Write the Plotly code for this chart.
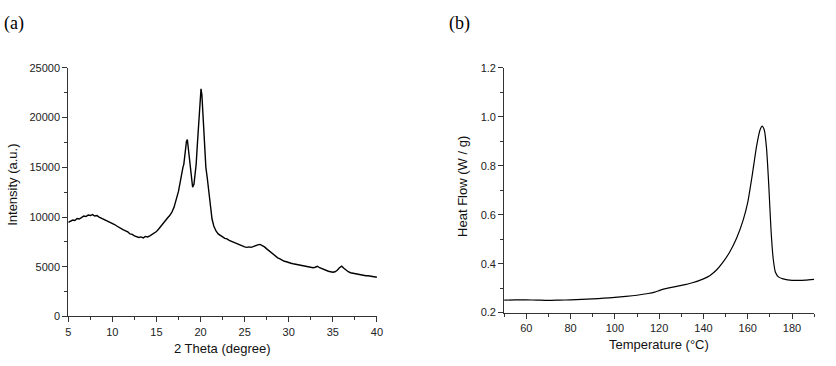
import plotly.graph_objects as go

# ---- Panel (a): XRD ----
xrd_2theta = [5.0, 5.25, 5.5, 5.75, 6.0, 6.25, 6.5, 6.75, 7.0, 7.25, 7.5, 7.75, 8.0, 8.25, 8.5, 8.75,
              9.0, 9.25, 9.5, 9.75, 10.0, 10.25, 10.5, 10.75, 11.0, 11.25, 11.5, 11.75, 12.0, 12.25,
              12.5, 12.75, 13.0, 13.25, 13.5, 13.75, 14.0, 14.25, 14.5, 14.75, 15.0, 15.25, 15.5,
              15.75, 16.0, 16.25, 16.5, 16.75, 17.0, 17.25, 17.5, 17.75, 17.9, 18.0, 18.1, 18.25,
              18.4, 18.5, 18.6, 18.75, 18.9, 19.0, 19.1, 19.25, 19.4, 19.5, 19.65, 19.8, 19.9, 20.05,
              20.15, 20.3, 20.45, 20.6, 20.75, 20.9, 21.0, 21.15, 21.3, 21.5, 21.75, 22.0, 22.25, 22.5,
              22.75, 23.0, 23.25, 23.5, 23.75, 24.0, 24.25, 24.5, 24.75, 25.0, 25.25, 25.5, 25.75,
              26.0, 26.25, 26.5, 26.75, 27.0, 27.25, 27.5, 27.75, 28.0, 28.25, 28.5, 28.75, 29.0,
              29.25, 29.5, 29.75, 30.0, 30.25, 30.5, 30.75, 31.0, 31.25, 31.5, 31.75, 32.0, 32.25,
              32.5, 32.75, 33.0, 33.25, 33.5, 33.75, 34.0, 34.25, 34.5, 34.75, 35.0, 35.25, 35.5,
              35.75, 36.0, 36.25, 36.5, 36.75, 37.0, 37.25, 37.5, 37.75, 38.0, 38.25, 38.5, 38.75,
              39.0, 39.25, 39.5, 39.75, 40.0]
xrd_intensity = [9450, 9600, 9700, 9650, 9850, 9800, 10000, 10100, 10050, 10200, 10150, 10250, 10100,
                 10150, 10000, 9900, 9800, 9700, 9550, 9450, 9350, 9250, 9100, 8950, 8850, 8700, 8600,
                 8500, 8300, 8250, 8100, 8000, 7950, 8000, 7900, 8050, 8000, 8100, 8250, 8350, 8550,
                 8800, 9100, 9400, 9650, 9900, 10150, 10500, 11000, 11700, 12600, 13800, 14800, 15000,
                 15300, 16500, 17600, 17800, 17000, 15500, 14000, 13400, 13000, 13300, 14200, 15300,
                 17500, 20000, 21800, 22900, 22300, 19500, 16800, 15000, 14000, 12800, 11800, 10700,
                 9800, 9100, 8600, 8300, 8100, 8000, 7850, 7800, 7650, 7550, 7450, 7350, 7300, 7150,
                 7100, 7000, 6950, 7000, 6950, 7050, 7100, 7200, 7250, 7150, 7000, 6800, 6600, 6400,
                 6200, 6050, 5900, 5800, 5650, 5550, 5500, 5400, 5350, 5300, 5250, 5200, 5150, 5100,
                 5050, 5000, 4950, 4900, 4900, 4950, 5050, 4900, 4800, 4700, 4600, 4550, 4500, 4450,
                 4500, 4650, 4900, 5050, 4850, 4650, 4500, 4400, 4350, 4300, 4250, 4200, 4200, 4150,
                 4100, 4100, 4050, 4000, 3950, 3950]
xrd_yticks = [0, 5000, 10000, 15000, 20000, 25000]
xrd_xticks = [5, 10, 15, 20, 25, 30, 35, 40]

# ---- Panel (b): DSC ----
dsc_temp = [50, 55, 60, 65, 70, 75, 80, 85, 90, 95, 100, 105, 110, 115, 118, 120, 122, 125, 130, 135,
            140, 143, 146, 149, 152, 155, 158, 160, 162, 164, 165.5, 166.5, 167.5, 168.5, 169.5,
            170.5, 171.5, 172.5, 174, 176, 178, 180, 183, 186, 190]
dsc_heatflow = [0.251, 0.252, 0.252, 0.251, 0.250, 0.251, 0.252, 0.254, 0.256, 0.259, 0.262, 0.266,
                0.271, 0.278, 0.284, 0.290, 0.296, 0.302, 0.311, 0.322, 0.338, 0.352, 0.375, 0.408,
                0.450, 0.505, 0.580, 0.650, 0.760, 0.880, 0.945, 0.962, 0.945, 0.870, 0.720, 0.540,
                0.420, 0.365, 0.345, 0.338, 0.334, 0.332, 0.332, 0.333, 0.336]
dsc_yticks = [0.2, 0.4, 0.6, 0.8, 1.0, 1.2]
dsc_xticks = [60, 80, 100, 120, 140, 160, 180]

W, H = 836, 366
fig = go.Figure()
fig.add_trace(go.Scatter(x=xrd_2theta, y=xrd_intensity, mode="lines",
                         line=dict(color="black", width=1.4), xaxis="x", yaxis="y"))
fig.add_trace(go.Scatter(x=dsc_temp, y=dsc_heatflow, mode="lines",
                         line=dict(color="black", width=1.2, shape="spline", smoothing=0.6),
                         xaxis="x2", yaxis="y2"))

font = dict(family="Liberation Sans", size=11, color="#222")
ax_common = dict(showgrid=False, zeroline=False, showline=True, linecolor="#333", linewidth=1,
                 ticks="outside", ticklen=5, tickcolor="#333", tickfont=font, mirror=False)

fig.update_layout(
    width=W, height=H, margin=dict(l=0, r=0, t=0, b=0),
    paper_bgcolor="white", plot_bgcolor="white", showlegend=False,
    xaxis=dict(domain=[66 / W, 378 / W], range=[5, 40], tickvals=xrd_xticks,
               ticktext=[str(v) for v in xrd_xticks],
               anchor="y", minor=dict(ticks="outside", ticklen=3, dtick=2.5, tick0=5, tickcolor="#333"),
               **ax_common),
    yaxis=dict(domain=[(H - 321) / H, (H - 64) / H], range=[0, 25000],
               tickvals=xrd_yticks, ticktext=[str(v) for v in xrd_yticks], anchor="x",
               minor=dict(ticks="outside", ticklen=3, dtick=2500, tick0=0, tickcolor="#333"),
               **ax_common),
    xaxis2=dict(domain=[506.6 / W, 820 / W], range=[50, 190], tickvals=dsc_xticks,
                ticktext=[str(v) for v in dsc_xticks],
                anchor="y2", minor=dict(ticks="outside", ticklen=3, dtick=10, tick0=50, tickcolor="#333"),
                **ax_common),
    yaxis2=dict(domain=[(H - 317) / H, (H - 64) / H], range=[0.2, 1.2],
                tickvals=dsc_yticks, ticktext=[f"{v:.1f}" for v in dsc_yticks],
                anchor="x2", minor=dict(ticks="outside", ticklen=3, dtick=0.1, tick0=0.2, tickcolor="#333"),
                **ax_common),
)

title_font = dict(family="Liberation Sans", size=13, color="#111")
panel_font = dict(family="Liberation Serif", size=18, color="black")
annots = [
    dict(text="(a)", x=11 / W, y=(H - 18) / H, font=panel_font),
    dict(text="(b)", x=461.5 / W, y=(H - 18) / H, font=panel_font),
    dict(text="2 Theta (degree)", x=222 / W, y=(H - 354) / H, font=title_font),
    dict(text="Temperature (°C)", x=663 / W, y=(H - 350) / H, font=title_font),
    dict(text="Intensity (a.u.)", x=10 / W, y=(H - 185) / H, font=title_font, textangle=-90),
    dict(text="Heat Flow (W / g)", x=465 / W, y=(H - 186) / H, font=title_font, textangle=-90),
]
for a in annots:
    fig.add_annotation(xref="paper", yref="paper", showarrow=False, xanchor="center", yanchor="middle", **a)

fig.write_html("out.html")
